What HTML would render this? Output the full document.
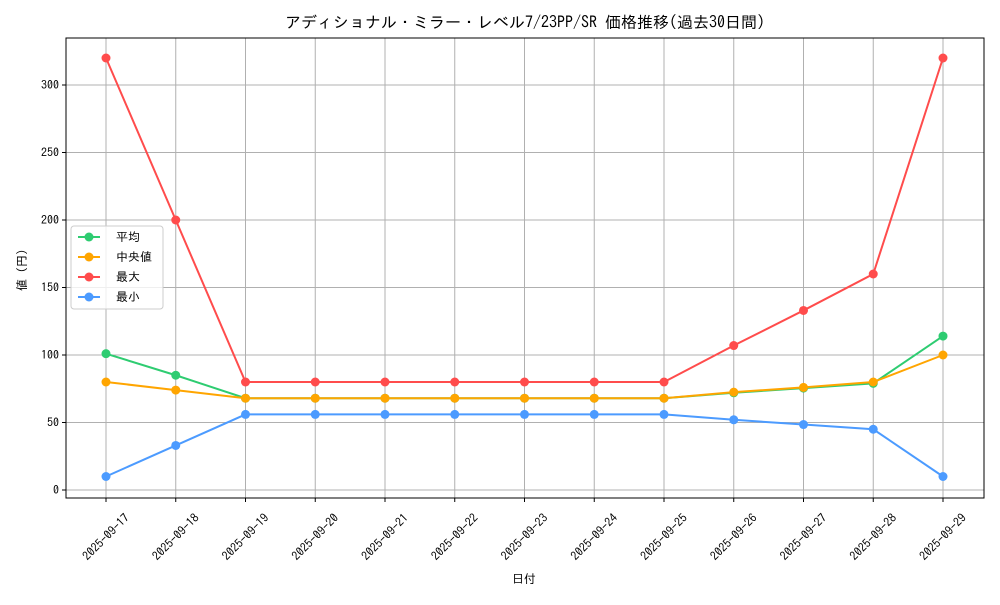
<!DOCTYPE html>
<html><head><meta charset="utf-8"><style>
body{margin:0;background:#fff}
svg text{font-family:"IPAGothic","Noto Sans CJK JP",sans-serif;fill:#000}
</style></head><body>
<svg id="chart" width="1000" height="600" xmlns="http://www.w3.org/2000/svg">
<rect width="1000" height="600" fill="#fff"/>
<text x="525" y="28" font-size="16" text-anchor="middle">アディショナル・ミラー・レベル7/23PP/SR 価格推移(過去30日間)</text>
<g id="grid"></g><g id="axes"></g><g id="series"></g>
<text x="524" y="583" font-size="12" text-anchor="middle">日付</text>
<text x="26" y="270" font-size="12" text-anchor="middle" transform="rotate(-90 26 270)">値 (円)</text>
<g id="legend"></g>
</svg>
<script>
const categories=["2025-09-17","2025-09-18","2025-09-19","2025-09-20","2025-09-21","2025-09-22","2025-09-23","2025-09-24","2025-09-25","2025-09-26","2025-09-27","2025-09-28","2025-09-29"];
const avgValues=[101,85,68,68,68,68,68,68,68,72,75.5,79,114];
const medianValues=[80,74,68,68,68,68,68,68,68,72.5,76,80,100];
const maxValues=[320,200,80,80,80,80,80,80,80,107,133,160,320];
const minValues=[10,33,56,56,56,56,56,56,56,52,48.5,45,10];
const yTicks=[0,50,100,150,200,250,300];
const seriesNames=["平均","中央値","最大","最小"];
const NS="http://www.w3.org/2000/svg";
const L=66,R=984,T=38,B=498;
const x=i=>106+i*(943-106)/(categories.length-1);
const y=v=>490-v*1.35;
function mk(tag,attrs,parent){const e=document.createElementNS(NS,tag);for(const k in attrs)e.setAttribute(k,attrs[k]);parent.appendChild(e);return e;}
const grid=document.getElementById('grid'),axes=document.getElementById('axes'),ser=document.getElementById('series'),leg=document.getElementById('legend');
categories.forEach((c,i)=>{
 const g=mk('line',{x1:x(i),x2:x(i),y1:T,y2:B,stroke:'#b0b0b0','stroke-width':1},grid);
 
 
 const t=mk('line',{x1:x(i),x2:x(i),y1:B,y2:B+4,stroke:'#000'},axes);
 
 
 const cx=x(i),cy=537;
 const tx=mk('text',{x:cx,y:cy+4,'font-size':12,'text-anchor':'middle',transform:`rotate(-45 ${cx} ${cy})`},axes);
 tx.textContent=c;
 
 
});
yTicks.forEach(v=>{
 const g=mk('line',{x1:L,x2:R,y1:y(v),y2:y(v),stroke:'#b0b0b0','stroke-width':1},grid);
 
 
 mk('line',{x1:L-4,x2:L,y1:y(v),y2:y(v),stroke:'#000'},axes);
 const tx=mk('text',{x:L-7,y:y(v)+4,'font-size':12,'text-anchor':'end'},axes);
 tx.textContent=v;
 
 
});
const fr=mk('rect',{x:L,y:T,width:R-L,height:B-T,fill:'none',stroke:'#000','stroke-width':1},axes);


const all=[avgValues,medianValues,maxValues,minValues];
const colors=['#2ecc71','#ffa500','#ff4c4c','#4c9bff'];
const names=['series-average','series-median','series-max','series-min'];
all.forEach((vals,s)=>{
 const g=mk('g',{},ser);
 
 
 mk('polyline',{points:vals.map((v,i)=>x(i)+','+y(v)).join(' '),fill:'none',stroke:colors[s],'stroke-width':2},g);
 vals.forEach((v,i)=>{
  const p=mk('circle',{cx:x(i),cy:y(v),r:4.5,fill:colors[s]},g);
  
  
 });
});
const lb=mk('rect',{x:71,y:226,width:92,height:83,fill:'#fff','fill-opacity':0.8,stroke:'#ccc',rx:3},leg);


seriesNames.forEach((n,s)=>{
 const yy=237+s*20;
 const g=mk('g',{},leg);
 
 
 mk('line',{x1:78,x2:100,y1:yy,y2:yy,stroke:colors[s],'stroke-width':2},g);
 mk('circle',{cx:89,cy:yy,r:4.5,fill:colors[s]},g);
 const t=mk('text',{x:116,y:yy+4,'font-size':12},g);
 t.textContent=n;
});
</script>
</body></html>
